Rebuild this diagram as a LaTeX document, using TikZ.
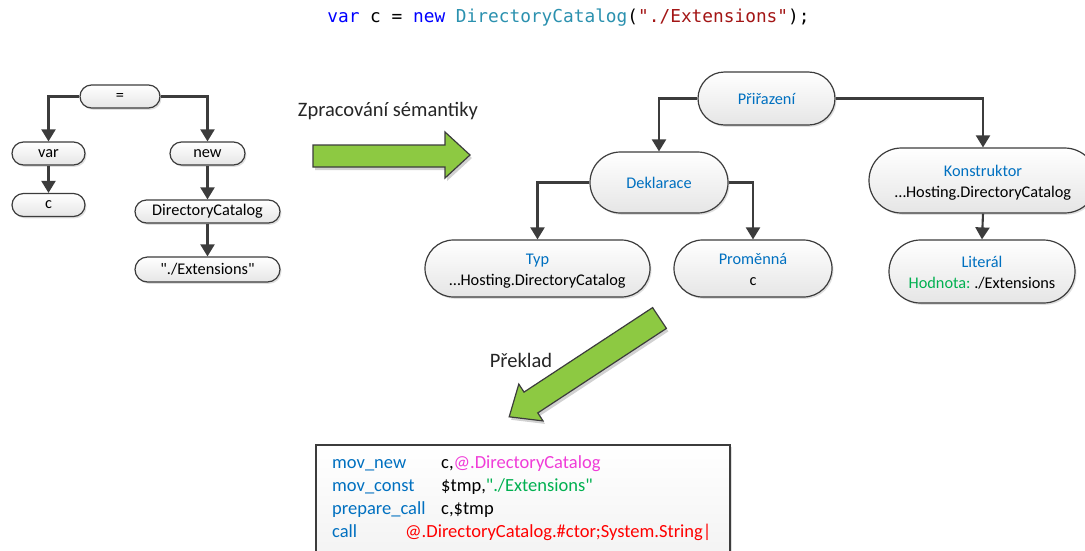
\documentclass[tikz,border=0pt]{standalone}
\usepackage{fontspec}
\setmainfont{Carlito}
\newfontfamily\calfont{Carlito}
\newfontfamily\codefont{DejaVu Sans Mono}
\usetikzlibrary{shapes.misc,arrows.meta,shadows}
\definecolor{dgray}{HTML}{3C3C3C}
\definecolor{cblue}{HTML}{0070C0}
\definecolor{cgreen}{HTML}{00B050}
\definecolor{cpink}{HTML}{F03CD8}
\definecolor{cred}{HTML}{FF0000}
\definecolor{kwblue}{HTML}{0000FF}
\definecolor{teal}{HTML}{2B91AF}
\definecolor{strred}{HTML}{A31515}
\definecolor{agreen}{RGB}{141,201,66}
\newcommand{\twolines}[2]{\raisebox{-2.5pt}[\height][\depth]{\begin{tabular}{@{}c@{}}#1\\#2\end{tabular}}}
\tikzset{
  tn/.style={rounded rectangle, draw=dgray, line width=1.2pt, top color=white, bottom color=gray!20,
    drop shadow={shadow xshift=1.5pt, shadow yshift=-1.8pt, opacity=0.25},
    inner sep=0pt, align=center, font=\calfont\frenchspacing\fontsize{16.3}{20.5}\selectfont},
  conn/.style={draw=dgray, line width=2.1pt, -{Triangle[length=12pt,width=14pt]}},
  lbl/.style={font=\calfont\fontsize{20.5}{24}\selectfont, text=black!85},
  code/.style={anchor=mid west, inner sep=0pt, font=\calfont\fontsize{18.5}{22}\selectfont},
  garrow/.style={fill=agreen, draw=dgray, line width=1.2pt, line join=miter},
  gshadow/.style={fill=black, opacity=0.18},
}
\begin{document}
\begin{tikzpicture}[x=1pt,y=-1pt]
\clip (0,0) rectangle (1085,550);
\fill[white] (0,0) rectangle (1085,550);

% top code line
\node[font=\codefont\fontsize{17.8}{20}\selectfont, inner sep=0pt] (src) at (568.5,18)
  {\textcolor{kwblue}{var} c = \textcolor{kwblue}{new} \textcolor{teal}{DirectoryCatalog}(\textcolor{strred}{"./Extensions"});};

% left tree
\node[tn, minimum width=80pt, minimum height=23pt] (eq) at (120,96.5) {=};
\node[tn, minimum width=73pt, minimum height=23pt] (var) at (48.5,153.5) {var};
\node[tn, minimum width=73pt, minimum height=23pt] (c) at (48.5,205) {c};
\node[tn, minimum width=75pt, minimum height=23pt] (new) at (207.5,153.5) {new};
\node[tn, minimum width=145pt, minimum height=23pt] (dc) at (207.5,211.5) {DirectoryCatalog};
\node[tn, minimum width=145pt, minimum height=25pt] (ext) at (207.5,269.5) {"./Extensions"};
\draw[conn] (eq.west) -| (var.north);
\draw[conn] (eq.east) -| (new.north);
\draw[conn] (var.south) -- (c.north);
\draw[conn] (new.south) -- (dc.north);
\draw[conn] (dc.south) -- (ext.north);

% semantic arrow
\node[lbl] (sem) at (388,111) {Zpracování sémantiky};
\fill[gshadow] (315,148) -- (447,148) -- (447,135) -- (472,158) -- (447,181) -- (447,170) -- (315,170) -- cycle;
\draw[garrow] (313,145) -- (445,145) -- (445,132) -- (470,155) -- (445,178) -- (445,167) -- (313,167) -- cycle;

% right tree
\node[tn, minimum width=137pt, minimum height=53pt] (prir) at (766.5,98.5) {\textcolor{cblue}{Přiřazení}};
\node[tn, minimum width=138pt, minimum height=61pt] (dekl) at (659,182.5) {\textcolor{cblue}{Deklarace}};
\node[tn, minimum width=225pt, minimum height=57pt] (typ) at (537.5,268.5) {\twolines{\textcolor{cblue}{Typ}}{…Hosting.DirectoryCatalog}};
\node[tn, minimum width=158pt, minimum height=57pt] (prom) at (753,268.5) {\twolines{\textcolor{cblue}{Proměnná}}{c}};
\node[tn, minimum width=228pt, minimum height=65pt] (konst) at (983,180.5) {\twolines{\textcolor{cblue}{Konstruktor}}{…Hosting.DirectoryCatalog}};
\node[tn, minimum width=186pt, minimum height=63pt] (lit) at (982,271.5) {\twolines{\textcolor{cblue}{Literál}}{\textcolor{cgreen}{Hodnota:} ./Extensions}};
\draw[conn] (prir.west) -| (dekl.north);
\draw[conn] (prir.east) -| (konst.north);
\draw[conn] (dekl.west) -| (typ.north);
\draw[conn] (dekl.east) -| (prom.north);
\draw[conn] (konst.south) -- (lit.north);

% translation arrow
\node[lbl] (prek) at (521,360) {Překlad};
\fill[gshadow] (668.4,331.4) -- (654.6,310.6) -- (526.0,395.1) -- (520.8,387.1) -- (511.2,419.8) -- (545.0,423.9) -- (539.8,415.9) -- cycle;
\draw[garrow] (666.4,328.4) -- (652.6,307.6) -- (524.0,392.1) -- (518.8,384.1) -- (509.2,416.8) -- (543.0,420.9) -- (537.8,412.9) -- cycle;

% code box
\node[draw=dgray, line width=1.2pt, rectangle, top color=white, bottom color=gray!12,
  drop shadow={shadow xshift=2pt, shadow yshift=-2pt, opacity=0.25},
  minimum width=414pt, minimum height=140pt, inner sep=0pt] (box) at (523,515) {};
\node[code, text=cblue] (k1) at (332,466.5) {mov\_new};
\node[code, text=cblue] (k2) at (332,489.5) {mov\_const};
\node[code, text=cblue] (k3) at (332,512.5) {prepare\_call};
\node[code, text=cblue] (k4) at (332,535.5) {call};
\node[code] (a1) at (441,466.5) {c,\textcolor{cpink}{@.DirectoryCatalog}};
\node[code] (a2) at (441,489.5) {\$tmp,\textcolor{cgreen}{"./Extensions"}};
\node[code] (a3) at (441,512.5) {c,\$tmp};
\node[code, text=cred] (a4) at (405,535.5) {@.DirectoryCatalog.\#ctor;System.String|};
\end{tikzpicture}
\end{document}
